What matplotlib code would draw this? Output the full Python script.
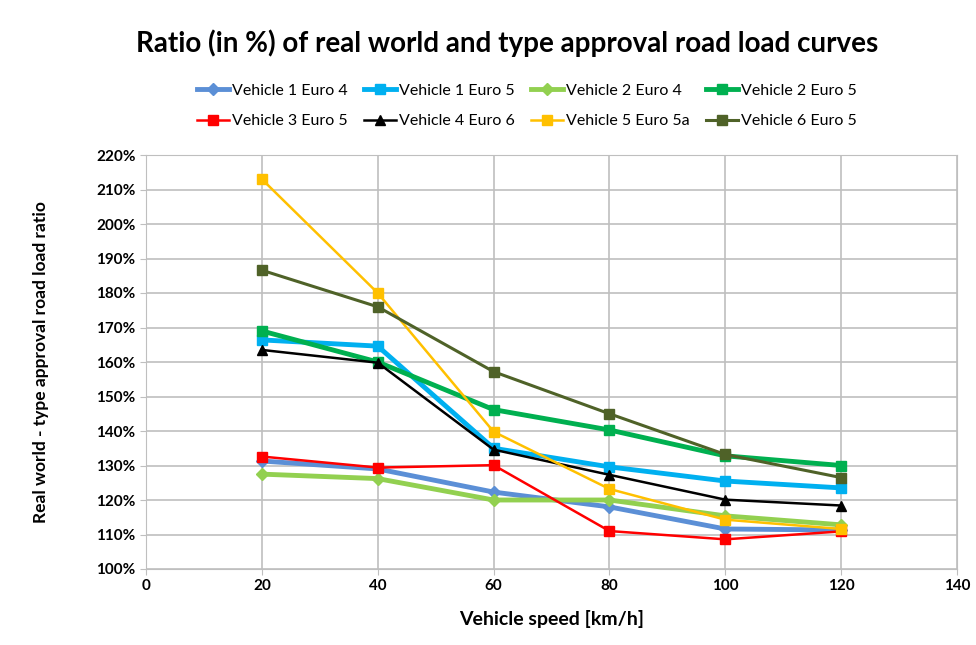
import numpy as np
import matplotlib
matplotlib.use("Agg")
import matplotlib.pyplot as plt
from matplotlib.ticker import FuncFormatter

plt.rcParams['font.family'] = ['Lato', 'DejaVu Sans']

speed = [20, 40, 60, 80, 100, 120]

v1_e4 = [131.3, 129.0, 122.3, 118.0, 111.6, 111.3]
v1_e5 = [166.4, 164.6, 135.0, 129.6, 125.5, 123.5]
v2_e4 = [127.5, 126.2, 120.0, 120.0, 115.4, 112.8]
v2_e5 = [169.0, 160.0, 146.2, 140.3, 132.8, 130.0]
v3_e5 = [132.6, 129.4, 130.1, 111.0, 108.6, 110.9]
v4_e6 = [163.5, 159.8, 134.6, 127.3, 120.1, 118.4]
v5_e5a = [213.0, 180.0, 139.8, 123.2, 114.3, 111.6]
v6_e5 = [186.6, 176.0, 157.2, 145.0, 133.2, 126.5]

labels = ["Vehicle 1 Euro 4", "Vehicle 1 Euro 5", "Vehicle 2 Euro 4", "Vehicle 2 Euro 5",
          "Vehicle 3 Euro 5", "Vehicle 4 Euro 6", "Vehicle 5 Euro 5a", "Vehicle 6 Euro 5"]
series = [v1_e4, v1_e5, v2_e4, v2_e5, v3_e5, v4_e6, v5_e5a, v6_e5]
colors = ["#5b8fd6", "#00b0f0", "#92d050", "#00b050", "#ff0000", "#000000", "#ffc000", "#4f6228"]
markers = ["D", "s", "D", "s", "s", "^", "s", "s"]
widths = [3.5, 3.5, 3.5, 3.5, 1.8, 1.8, 1.8, 2.2]
msizes = [6, 7, 6, 7, 7, 7, 7, 7]

fig = plt.figure(figsize=(9.76, 6.45), dpi=100)
ax = fig.add_axes([146/976, 1-569/645, (957-146)/976, (569-155)/645])

handles = []
for y, lab, c, m, lw, ms in zip(series, labels, colors, markers, widths, msizes):
    h, = ax.plot(speed, y, color=c, marker=m, lw=lw, ms=ms, label=lab, zorder=3)
    handles.append(h)

ax.set_xlim(0, 140)
ax.set_ylim(100, 220)
ax.set_xticks(np.arange(0, 141, 20))
ax.set_yticks(np.arange(100, 221, 10))
ax.yaxis.set_major_formatter(FuncFormatter(lambda v, p: f"{int(v)}%"))
ax.grid(True, color="#bfbfbf", lw=1.2)
ax.set_axisbelow(True)
for s in ax.spines.values():
    s.set_color("#bfbfbf")
ax.tick_params(axis='both', length=4, color="#bfbfbf", labelsize=11)
for t in ax.get_xticklabels() + ax.get_yticklabels():
    t.set_fontweight('bold')

ax.set_xlabel("Vehicle speed [km/h]", fontsize=14, fontweight='bold')
ax.xaxis.set_label_coords(0.5, -(610-569)/414, transform=ax.transAxes)
ax.set_ylabel("Real world - type approval road load ratio", fontsize=12.5, fontweight='bold')
ax.yaxis.set_label_coords(-(146-49)/811, 0.5, transform=ax.transAxes)
fig.suptitle("Ratio (in %) of real world and type approval road load curves",
             fontsize=20, fontweight='bold', x=507/976, y=1-43/645, va='center')

# row-major legend order: reorder for column-major filling
order = [0, 4, 1, 5, 2, 6, 3, 7]
fig.legend([handles[i] for i in order], [labels[i] for i in order],
           loc='center', bbox_to_anchor=(527/976, 1-106/645), ncol=4, frameon=False,
           fontsize=11.5, handlelength=2.0, handletextpad=0.2, columnspacing=1.0,
           labelspacing=1.0)

fig.savefig("out.png", dpi=100)
